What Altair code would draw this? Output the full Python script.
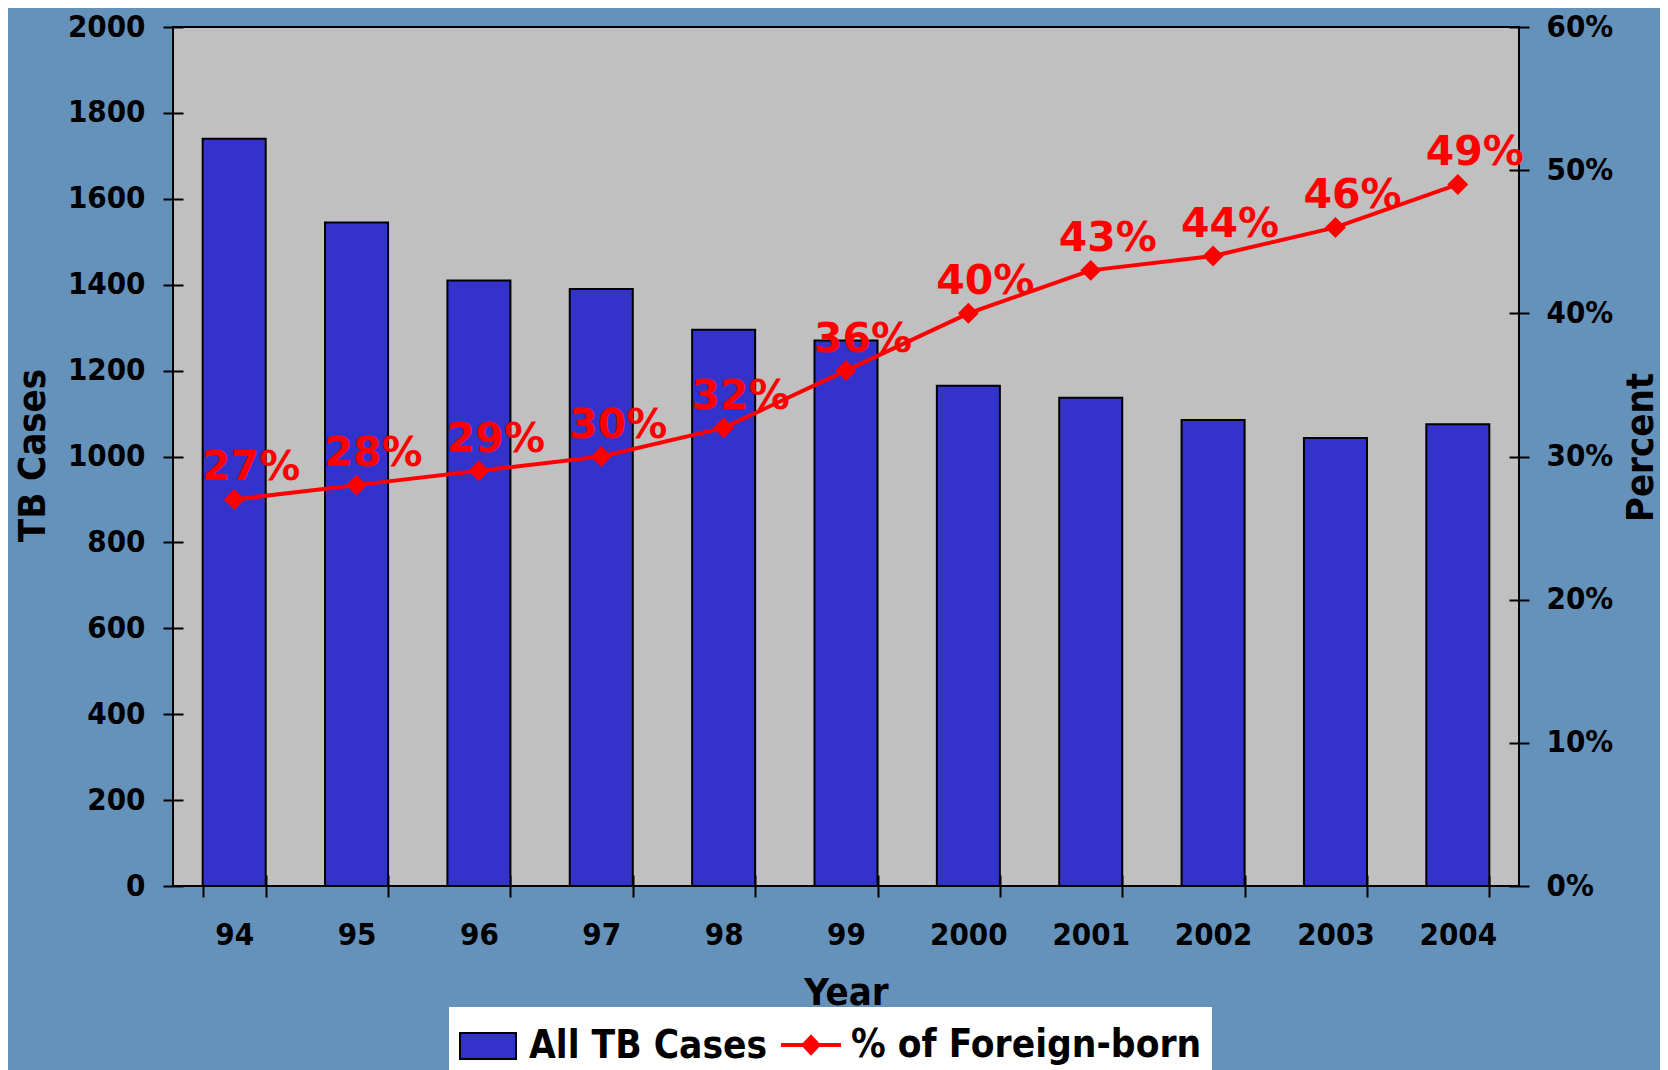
import altair as alt
import pandas as pd

years = ["94", "95", "96", "97", "98", "99", "2000", "2001", "2002", "2003", "2004"]
tb_cases = [1740, 1545, 1410, 1390, 1295, 1270, 1165, 1137, 1085, 1043, 1075]
pct_foreign = [27, 28, 29, 30, 32, 36, 40, 43, 44, 46, 49]
cases_ticks = [0, 200, 400, 600, 800, 1000, 1200, 1400, 1600, 1800, 2000]
pct_ticks = [0, 10, 20, 30, 40, 50, 60]
bar_series = "All TB Cases"
line_series = "% of Foreign-born"
bar_color = "#3333cc"
line_color = "#ff0000"

df = pd.DataFrame({
    "year": years,
    "cases": tb_cases,
    "pct": [p / 100 for p in pct_foreign],
    "label": [f"{p}%" for p in pct_foreign],
    "series": bar_series,
    "series2": line_series,
})

COND = "DejaVu Sans Condensed"
BOLD = "DejaVu Sans"

x_enc = alt.X(
    "year:N",
    sort=years,
    scale=alt.Scale(paddingInner=0.485, paddingOuter=0.2425),
    axis=alt.Axis(
        title="Year", tickBand="extent", offset=-11, tickSize=22, domain=False,
        tickColor="black", tickWidth=2, labelAngle=0,
        labelFont=COND, labelFontSize=31, labelFontWeight="bold", labelColor="black",
        labelPadding=47, labelBaseline="alphabetic",
        titleFont=COND, titleFontSize=38, titleFontWeight="bold", titleColor="black",
        titleX=673, titleY=129, titleAlign="center", titleBaseline="alphabetic",
    ),
)

legend_common = dict(
    orient="none", direction="horizontal", title=None, fillColor="white", padding=10,
    symbolSize=3136, labelFont=COND, labelFontSize=38.5, labelFontWeight="bold",
    labelColor="black", labelLimit=800, labelOffset=12, symbolOpacity=1,
)

legend_bar = alt.Legend(
    legendX=276, legendY=980,
    symbolType="M-1,-0.46H1V0.46H-1Z",
    symbolStrokeColor="black", symbolStrokeWidth=2,
    **legend_common,
)
legend_line = alt.Legend(
    legendX=600, legendY=980,
    symbolType="M-1.07,-0.07H1.07V0.07H-1.07ZM0,-0.38L0.36,0L0,0.38L-0.36,0Z",
    symbolStrokeWidth=0,
    **legend_common,
)

base = alt.Chart(df)

bars = base.mark_bar(stroke="black", strokeWidth=2, opacity=1).encode(
    x=x_enc,
    y=alt.Y(
        "cases:Q",
        scale=alt.Scale(domain=[0, 2000], nice=False),
        axis=alt.Axis(
            orient="left", values=cases_ticks, format="d", offset=-10, tickSize=20,
            domain=False, grid=False, tickColor="black", tickWidth=2,
            labelFont=COND, labelFontSize=31, labelFontWeight="bold", labelColor="black",
            labelPadding=18,
            title="TB Cases", titleFont=COND, titleFontSize=38, titleFontWeight="bold",
            titleColor="black", titleAngle=270, titleX=-139, titleY=428,
            titleAlign="center", titleBaseline="alphabetic",
        ),
    ),
    color=alt.Color("series:N", scale=alt.Scale(domain=[bar_series], range=[bar_color]),
                    legend=legend_bar),
)

pct_y = alt.Y(
    "pct:Q",
    scale=alt.Scale(domain=[0, 0.6], nice=False),
    axis=alt.Axis(
        orient="right", values=[t / 100 for t in pct_ticks], format=".0%", offset=-10,
        tickSize=20, domain=False, grid=False, tickColor="black", tickWidth=2,
        labelFont=COND, labelFontSize=31, labelFontWeight="bold", labelColor="black",
        labelPadding=17,
        title="Percent", titleFont=COND, titleFontSize=38, titleFontWeight="bold",
        titleColor="black", titleAngle=270, titleX=143, titleY=420,
        titleAlign="center", titleBaseline="alphabetic",
    ),
)

pct_base = base.encode(x=x_enc, y=pct_y)
line = pct_base.mark_line(color=line_color, strokeWidth=4)
points = pct_base.mark_point(shape="diamond", filled=True, size=440, opacity=1).encode(
    color=alt.Color("series2:N", scale=alt.Scale(domain=[line_series], range=[line_color]),
                    legend=legend_line)
)
labels = pct_base.mark_text(
    font=BOLD, fontWeight="bold", fontSize=41, color=line_color,
    dx=17, dy=-19, baseline="alphabetic", align="center",
).encode(text="label:N")

chart = alt.layer(bars, alt.layer(line, points, labels)).resolve_scale(
    y="independent", color="independent"
).properties(
    width=1346, height=859,
    autosize=alt.AutoSizeParams(type="none"),
    padding={"left": 165, "top": 19, "right": 141, "bottom": 184},
    background="#6592bb",
).configure_view(fill="#c0c0c0", stroke="black", strokeWidth=2)

chart.save("out.html", embed_options={"renderer": "svg", "actions": False})
